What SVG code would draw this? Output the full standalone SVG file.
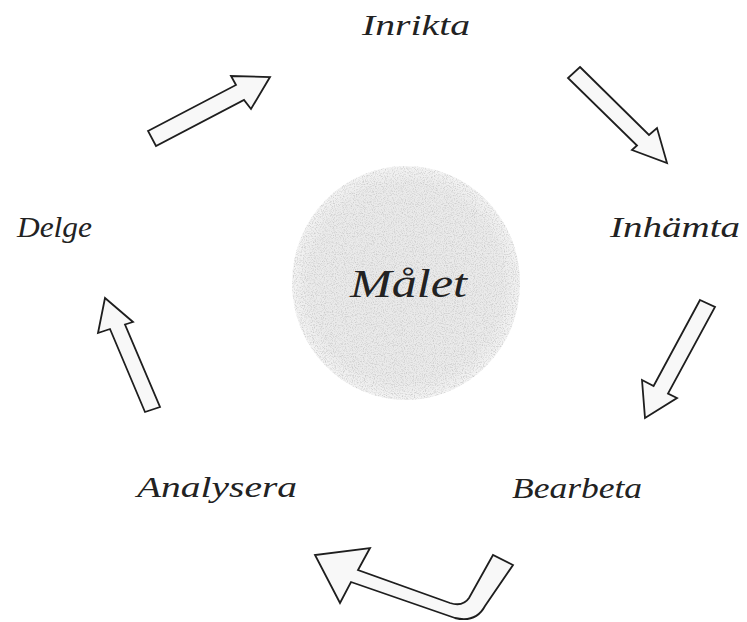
<svg xmlns="http://www.w3.org/2000/svg" width="747" height="622" viewBox="0 0 747 622">
  <style>
    .lbl { font-family: "Liberation Serif", "DejaVu Serif", serif; font-style: italic; font-size: 30px; fill: #222; }
    .goal { font-family: "Liberation Serif", "DejaVu Serif", serif; font-style: italic; font-size: 40px; fill: #222; }
    .arrow { fill: #f8f8f8; stroke: #1e1e1e; stroke-width: 1.8; stroke-linejoin: miter; }
  </style>
  <defs>
    <radialGradient id="goalGrad" cx="0.5" cy="0.5" r="0.5">
      <stop offset="0" stop-color="#e9e9e9"/>
      <stop offset="0.85" stop-color="#ebebeb"/>
      <stop offset="1" stop-color="#f4f4f4"/>
    </radialGradient>
    <filter id="grain" x="0" y="0" width="100%" height="100%">
      <feTurbulence type="fractalNoise" baseFrequency="0.9" numOctaves="2" seed="3" result="n"/>
      <feColorMatrix in="n" type="matrix" values="0 0 0 0 0.6  0 0 0 0 0.6  0 0 0 0 0.6  0 0 0 -2.6 1.45" result="g"/>
      <feComposite in="g" in2="SourceGraphic" operator="in" result="gi"/>
      <feMerge><feMergeNode in="SourceGraphic"/><feMergeNode in="gi"/></feMerge>
    </filter>
  </defs>
  <rect width="747" height="622" fill="#ffffff"/>

  <g id="goal">
    <ellipse cx="406" cy="283" rx="114" ry="117" fill="url(#goalGrad)" filter="url(#grain)"/>
    <text class="goal" x="350" y="297" textLength="117" lengthAdjust="spacingAndGlyphs">Målet</text>
  </g>

  <g id="inrikta"><text class="lbl" x="362" y="35" textLength="108" lengthAdjust="spacingAndGlyphs">Inrikta</text></g>
  <g id="inhamta"><text class="lbl" x="610" y="237" textLength="130" lengthAdjust="spacingAndGlyphs">Inhämta</text></g>
  <g id="bearbeta"><text class="lbl" x="512" y="498" textLength="130" lengthAdjust="spacingAndGlyphs">Bearbeta</text></g>
  <g id="analysera"><text class="lbl" x="137" y="497" textLength="160" lengthAdjust="spacingAndGlyphs">Analysera</text></g>
  <g id="delge"><text class="lbl" x="17" y="237" textLength="75" lengthAdjust="spacingAndGlyphs">Delge</text></g>

  <g id="connectors">
    <polygon class="arrow" points="148,131 236,85 231,76 270,77 251,109 244,100 156,146"/>
    <polygon class="arrow" points="580,67 649,135 657,128 667,163 632,150 637,145.5 568,78"/>
    <polygon class="arrow" points="700,300 715,307 668,393.5 677,398 645,418 642,380 653.6,386"/>
    <path class="arrow" d="M493,555 L469,598 Q463,607 450,603 L358,570 L370,548 L315,555 L340,603 L351,582 L455,618 Q476,623 485,606 L513,565 Z"/>
    <polygon class="arrow" points="145,412 110,329 98,333 105,298 133,322 125,324.5 160,407"/>
  </g>
</svg>
